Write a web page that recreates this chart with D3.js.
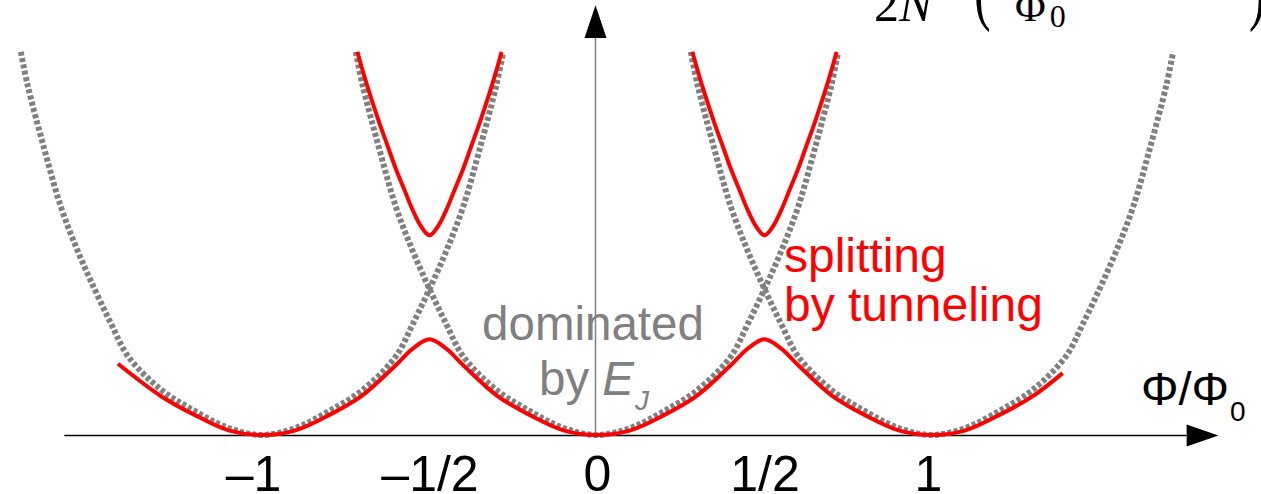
<!DOCTYPE html>
<html>
<head>
<meta charset="utf-8">
<script src="https://cdn.jsdelivr.net/npm/d3@7"></script>
<style>
  html, body { margin: 0; padding: 0; background: #fff; }
  svg { display: block; }
</style>
</head>
<body>
<svg id="chart" width="1261" height="494"></svg>
<script>
// x ticks on the flux axis
const xTicks = [-1, -0.5, 0, 0.5, 1];
const xTickLabels = ['\u20131', '\u20131/2', '0', '1/2', '1'];

const grayCenters = [-1, 0, 1];
const grayDx = [0, 0.1, 0.2, 0.3, 0.4, 0.45, 0.5, 0.55, 0.6, 0.65, 0.7, 0.72];
const grayE = [0, 0.012, 0.041, 0.077, 0.135, 0.19, 0.25, 0.315, 0.39, 0.49, 0.6, 0.656];

// lower red band (tunnelling split), read point by point
const lowerPhi = [-1.43, -1.3, -1.2, -1.1, -1, -0.9, -0.8, -0.7, -0.6, -0.55, -0.5, -0.45, -0.4, -0.3, -0.2, -0.1,
  0, 0.1, 0.2, 0.3, 0.4, 0.45, 0.5, 0.55, 0.6, 0.7, 0.8, 0.9, 1, 1.1, 1.2, 1.3, 1.39];
const lowerE = [0.122, 0.066, 0.034, 0.008, 0, 0.008, 0.034, 0.068, 0.12, 0.148, 0.164, 0.148, 0.12, 0.068, 0.034, 0.008,
  0, 0.008, 0.034, 0.068, 0.12, 0.148, 0.164, 0.148, 0.12, 0.068, 0.034, 0.008, 0, 0.008, 0.034, 0.066, 0.106];

// upper red band, profile around each half-flux point
const upperCenters = [-0.5, 0.5];
const upperDx = [0, 0.025, 0.05, 0.075, 0.1, 0.125, 0.15, 0.175, 0.2, 0.215];
const upperE = [0.342, 0.357, 0.385, 0.42, 0.455, 0.495, 0.535, 0.578, 0.625, 0.656];

// axis extents (in data units)
const xAxisExtent = [-1.59, 1.76];
const xArrowTip = 1.855;
const yAxisTop = 0.68;
const yArrowTip = 0.736;

const gray = '#808080';
const red = '#ff0000';
const sans = '"Liberation Sans", Arial, Helvetica, sans-serif';
const serif = '"Liberation Serif", "DejaVu Serif", "Times New Roman", serif';

const svg = d3.select('#chart');

const x = d3.scaleLinear().domain([-1, 1]).range([262, 932]);
const y = d3.scaleLinear().domain([0, 0.75]).range([435, 435 - 0.75 * 584]);

// mirror a one-sided profile round a centre
function branch(center, dxs, es) {
  const left = dxs.map((d, i) => [center - d, es[i]]).reverse();
  const right = dxs.slice(1).map((d, i) => [center + d, es[i + 1]]);
  return left.concat(right);
}

const line = d3.line()
  .x((d) => x(d[0]))
  .y((d) => y(d[1]))
  .curve(d3.curveCatmullRom.alpha(0.5));

// x axis
svg.append('line')
  .attr('x1', x(xAxisExtent[0]))
  .attr('x2', x(xAxisExtent[1]))
  .attr('y1', y(0) + 0.5)
  .attr('y2', y(0) + 0.5)
  .attr('stroke', '#000')
  .attr('stroke-width', 1.5);

svg.append('path')
  .attr('d', `M${x(xAxisExtent[1])},${y(0) - 10.5}L${x(xArrowTip)},${y(0) + 0.5}L${x(xAxisExtent[1])},${y(0) + 11.5}Z`)
  .attr('fill', '#000');

// y axis
svg.append('line')
  .attr('x1', x(0) - 1.5)
  .attr('x2', x(0) - 1.5)
  .attr('y1', y(0))
  .attr('y2', y(yAxisTop))
  .attr('stroke', gray)
  .attr('stroke-width', 1.5);

svg.append('path')
  .attr('d', `M${x(0) - 12.5},${y(yAxisTop)}L${x(0) - 1.5},${y(yArrowTip)}L${x(0) + 9.5},${y(yAxisTop)}Z`)
  .attr('fill', '#000');

// tick labels
const xAxis = d3.axisBottom(x)
  .tickValues(xTicks)
  .tickSize(0)
  .tickFormat((d, i) => xTickLabels[i]);

const gx = svg.append('g')
  .attr('transform', `translate(0,${y(0)})`)
  .call(xAxis);

gx.select('.domain').remove();
gx.selectAll('text')
  .attr('y', 56)
  .attr('dy', null)
  .attr('dx', (d) => d === -1 ? -9 : (d === 1 ? -4 : 0))
  .attr('fill', '#000')
  .style('font-family', sans)
  .style('font-size', '50px');

// dotted parabolas
grayCenters.forEach((c) => {
  svg.append('path')
    .attr('d', line(branch(c, grayDx, grayE)))
    .attr('fill', 'none')
    .attr('stroke', gray)
    .attr('stroke-width', 6)
    .attr('stroke-dasharray', '4,2.4');
});

// red bands
svg.append('path')
  .attr('d', line(lowerPhi.map((p, i) => [p, lowerE[i]])))
  .attr('fill', 'none')
  .attr('stroke', red)
  .attr('stroke-width', 4);

upperCenters.forEach((c) => {
  svg.append('path')
    .attr('d', line(branch(c, upperDx, upperE)))
    .attr('fill', 'none')
    .attr('stroke', red)
    .attr('stroke-width', 4);
});

// axis label
const xl = svg.append('text')
  .attr('x', 1141)
  .attr('y', 405)
  .attr('fill', '#000')
  .style('font-family', sans)
  .style('font-size', '47px');
xl.append('tspan').text('\u03A6/\u03A6');
xl.append('tspan').attr('dy', 16).attr('dx', 1).style('font-size', '28px').text('0');

// annotations
const dom = svg.append('text')
  .attr('text-anchor', 'middle')
  .attr('fill', gray)
  .style('font-family', sans)
  .style('font-size', '47.5px');
dom.append('tspan').attr('x', 593).attr('y', 340).text('dominated');
const byE = svg.append('text')
  .attr('x', 594)
  .attr('y', 395)
  .attr('text-anchor', 'middle')
  .attr('fill', gray)
  .style('font-family', sans)
  .style('font-size', '47.5px');
byE.append('tspan').text('by ');
byE.append('tspan').style('font-style', 'italic').text('E');
byE.append('tspan').attr('dy', 15).attr('dx', 1).style('font-style', 'italic').style('font-size', '28px').text('J');

const split = svg.append('text')
  .attr('fill', red)
  .style('font-family', sans)
  .style('font-size', '48px');
split.append('tspan').attr('x', 784).attr('y', 272).text('splitting');
split.append('tspan').attr('x', 784).attr('y', 321).text('by tunneling');

// fragment of the formula cut by the top edge
const f = svg.append('g')
  .attr('fill', '#000')
  .style('font-family', serif);
const f1 = f.append('text').attr('x', 874).attr('y', 21).style('font-size', '50px');
f1.append('tspan').text('2');
f1.append('tspan').style('font-style', 'italic').text('N');
f.append('text')
  .attr('transform', 'translate(974,15) scale(1,1.6)')
  .style('font-size', '50px')
  .text('(');
const f2 = f.append('text').attr('x', 1015).attr('y', 21).style('font-size', '42px');
f2.append('tspan').text('\u03A6');
f2.append('tspan').attr('dy', 6).attr('dx', 4).style('font-size', '32px').text('0');
f.append('text')
  .attr('transform', 'translate(1249,15) scale(1,1.6)')
  .style('font-size', '50px')
  .text(')');
</script>
</body>
</html>
